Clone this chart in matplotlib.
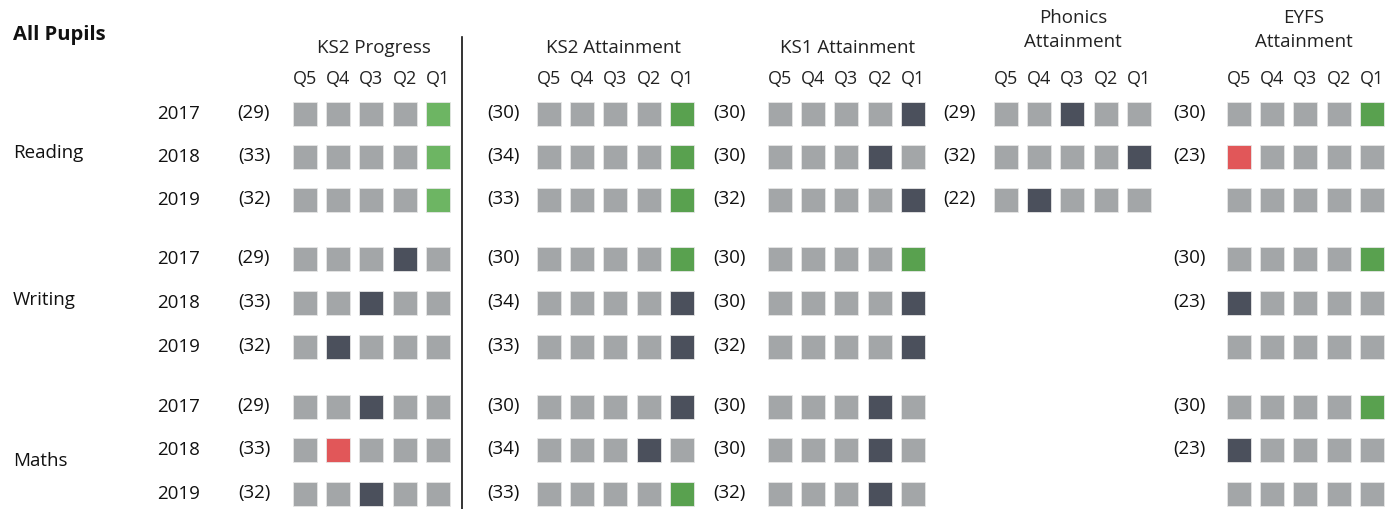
import matplotlib.pyplot as plt
from matplotlib.patches import Rectangle

# ---- data ----
subjects = ['Reading', 'Writing', 'Maths']
years = ['2017', '2018', '2019']
quintiles = ['Q5', 'Q4', 'Q3', 'Q2', 'Q1']

# cell codes per row (Q5..Q1): g = grey, d = dark, G = green, R = red ; None = no row
sections = ['KS2 Progress', 'KS2 Attainment', 'KS1 Attainment', 'Phonics\nAttainment', 'EYFS\nAttainment']

ks2_progress = ['ggggG', 'ggggG', 'ggggG',
                'gggdg', 'ggdgg', 'gdggg',
                'ggdgg', 'gRggg', 'ggdgg']
ks2_progress_n = [29, 33, 32, 29, 33, 32, 29, 33, 32]

ks2_attain = ['ggggG', 'ggggG', 'ggggG',
              'ggggG', 'ggggd', 'ggggd',
              'ggggd', 'gggdg', 'ggggG']
ks2_attain_n = [30, 34, 33, 30, 34, 33, 30, 34, 33]

ks1_attain = ['ggggd', 'gggdg', 'ggggd',
              'ggggG', 'ggggd', 'ggggd',
              'gggdg', 'gggdg', 'gggdg']
ks1_attain_n = [30, 30, 32, 30, 30, 32, 30, 30, 32]

phonics = ['ggdgg', 'ggggd', 'gdggg',
           None, None, None,
           None, None, None]
phonics_n = [29, 32, 22, None, None, None, None, None, None]

eyfs = ['ggggG', 'Rgggg', 'ggggg',
        'ggggG', 'dgggg', 'ggggg',
        'ggggG', 'dgggg', 'ggggg']
eyfs_n = [30, 23, None, 30, 23, None, 30, 23, None]

grids = [ks2_progress, ks2_attain, ks1_attain, phonics, eyfs]
counts = [ks2_progress_n, ks2_attain_n, ks1_attain_n, phonics_n, eyfs_n]

# ---- style / layout ----
colors = {'g': '#a3a6a8', 'd': '#4b505c', 'G': '#59a14f', 'R': '#e15759'}
progress_green = '#6db563'
font = 'Open Sans'
fs = 13.5

W, H = 1387, 510
sq_x0 = [293, 537, 768, 994, 1227]     # left of Q5 square per section
count_x = [254, 503, 729, 959, 1189]
title_x = [374, 614, 848, 1073, 1304]
step_x = 33.2
sq = 24
row_y = [115, 158, 201, 260, 304, 348, 408, 451, 495]
subj_y = [153, 300, 461]

fig = plt.figure(figsize=(W / 100, H / 100), dpi=100)
ax = fig.add_axes([0, 0, 1, 1])
ax.set_xlim(0, W)
ax.set_ylim(H, 0)
ax.axis('off')

ax.text(13, 35, 'All Pupils', fontsize=14.5, fontweight='bold', family=font,
        ha='left', va='center', color='#111111')

for s, name in enumerate(sections):
    if '\n' in name:
        ax.text(title_x[s], 30, name, fontsize=fs, family=font, ha='center',
                va='center', linespacing=1.42, color='#222222')
    else:
        ax.text(title_x[s], 48, name, fontsize=fs, family=font, ha='center',
                va='center', color='#222222')
    for q, lab in enumerate(quintiles):
        ax.text(sq_x0[s] + q * step_x + sq / 2, 79, lab, fontsize=fs - 0.5,
                family=font, ha='center', va='center', color='#222222')
    for r, row in enumerate(grids[s]):
        if row is None:
            continue
        y = row_y[r]
        for q, code in enumerate(row):
            c = colors[code]
            if code == 'G' and s == 0:
                c = progress_green
            ax.add_patch(Rectangle((sq_x0[s] + q * step_x, y - sq / 2), sq, sq,
                                   facecolor=c, edgecolor='#e6e6e6', linewidth=0.6))
        n = counts[s][r]
        if n is not None:
            ax.text(count_x[s], y - 2, '(%d)' % n, fontsize=fs, family=font,
                    ha='center', va='center', color='#111111')

for r, y in enumerate(row_y):
    ax.text(179, y - 1, years[r % 3], fontsize=fs, family=font, ha='center',
            va='center', color='#111111')

for i, subj in enumerate(subjects):
    ax.text(13, subj_y[i], subj, fontsize=fs, family=font, ha='left',
            va='center', color='#111111')

ax.plot([462, 462], [38, H], color='#111111', linewidth=1.2)

fig.savefig('out.png', dpi=100)
